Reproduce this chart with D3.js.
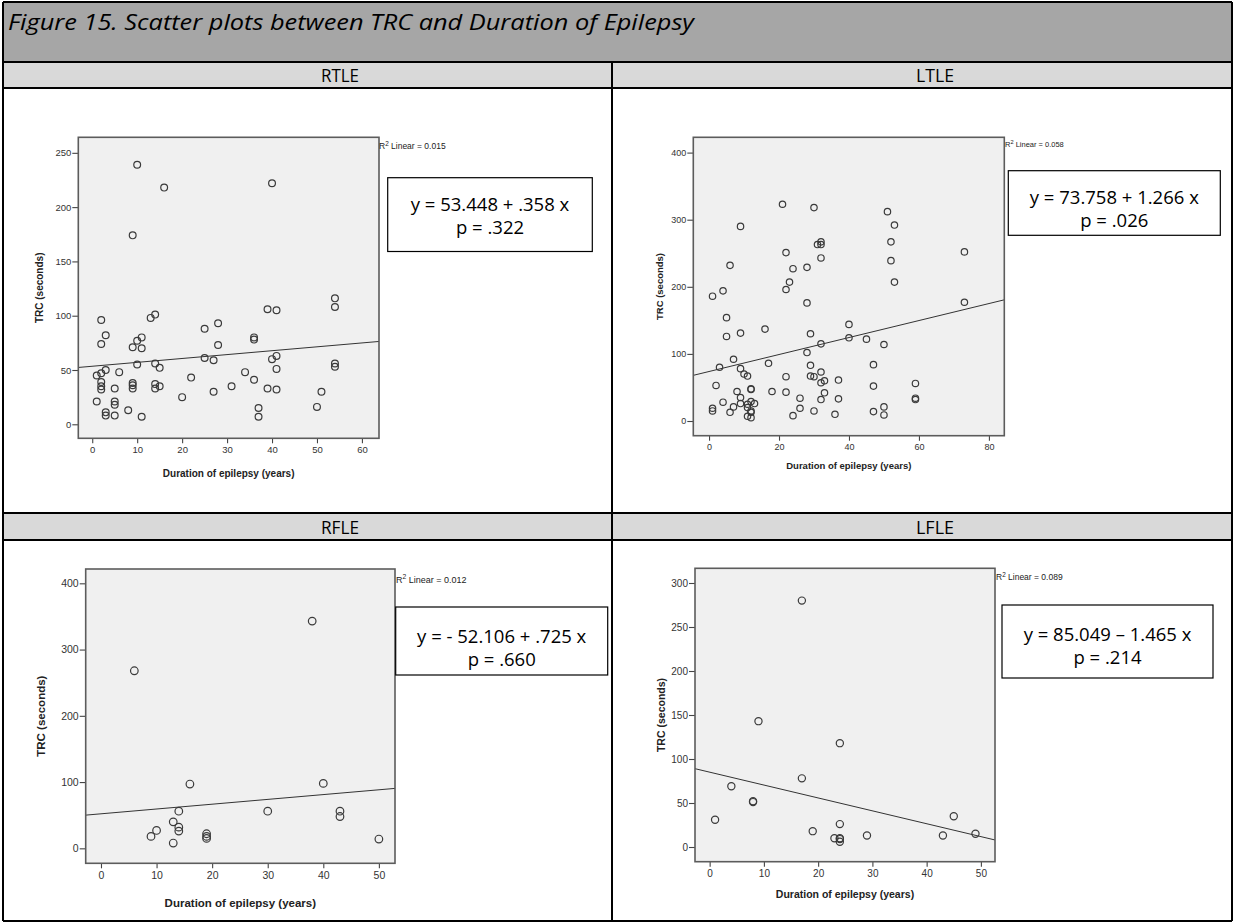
<!DOCTYPE html>
<html>
<head>
<meta charset="utf-8">
<script src="https://cdn.jsdelivr.net/npm/d3@7"></script>
<style>
  body { margin: 0; background: #fff; }
  svg { display: block; }
</style>
</head>
<body>
<svg id="fig" width="1235" height="924"></svg>
<script>
// ---- Data: duration of epilepsy (years) vs TRC (seconds) per group ----
const panelNames = ["RTLE", "LTLE", "RFLE", "LFLE"];

const rtleDuration = [2, 3, 2, 1, 2, 3, 2, 2, 2, 1, 3, 3, 5, 5, 5, 5, 6, 8, 9, 10, 11, 11, 10, 9, 9, 9, 11,
  13, 14, 14, 15, 14, 14, 15, 20, 22, 25, 28, 28, 25, 27, 27, 31, 34, 36, 36, 36, 39, 41, 41, 40, 41,
  39, 41, 37, 37, 50, 51, 54, 54, 54, 54, 10, 16, 40, 9];
const rtleTRC = [96, 82, 74, 45, 47, 50, 39, 35, 32, 21, 11, 8, 33, 21, 18, 8, 48, 13, 71, 77, 80, 70, 55, 38, 36, 33, 7,
  98, 101, 56, 52, 37, 33, 35, 25, 43, 88, 93, 73, 61, 59, 30, 35, 48, 80, 78, 41, 106, 105, 63, 60, 51,
  33, 32, 15, 7, 16, 30, 116, 108, 56, 53, 239, 218, 222, 174];

const ltleDuration = [21, 30, 51, 53, 9, 31, 32, 32, 52, 22, 73, 32, 52, 6, 24, 28, 23, 53, 22, 4, 1, 28, 73,
  5, 5, 9, 16, 40, 29, 40, 45, 32, 50, 28, 7, 17, 3, 9, 29, 47, 10, 11, 22, 32, 29, 30, 32, 33, 37, 59,
  2, 47, 12, 12, 8, 18, 22, 33, 9, 26, 37, 59, 59, 32, 4, 12, 13, 9, 11, 1, 1, 7, 11, 26, 50, 6, 12, 12,
  30, 47, 11, 12, 24, 36, 50];
const ltleTRC = [323, 318, 312, 292, 290, 263, 263, 267, 267, 251, 252, 243, 239, 232, 227, 229, 207, 207, 196, 194, 186, 176, 177,
  154, 126, 131, 137, 144, 130, 124, 122, 115, 114, 102, 92, 86, 80, 78, 83, 84, 70, 67, 66, 73, 67, 66, 57, 60, 61, 56,
  53, 52, 48, 47, 44, 44, 43, 42, 35, 34, 33, 34, 32, 32, 28, 29, 26, 26, 25, 19, 15, 21, 20, 19, 21, 13, 15, 13,
  15, 14, 7, 5, 8, 10, 9];

const rfleDuration = [6, 38, 9, 10, 13, 13, 14, 14, 14, 16, 19, 19, 19, 30, 40, 43, 43, 50];
const rfleTRC = [268, 343, 18, 27, 40, 8, 56, 32, 26, 97, 22, 18, 15, 56, 98, 56, 48, 14];

const lfleDuration = [1, 4, 8, 8, 9, 17, 17, 19, 23, 24, 24, 24, 24, 24, 29, 43, 45, 49];
const lfleTRC = [31, 69, 52, 51, 143, 280, 78, 18, 10, 118, 26, 10, 9, 6, 13, 13, 35, 15];

// Fitted linear regression lines (intercept, slope) and their printed labels
const fitIntercepts = [53.448, 73.758, 52.106, 85.049];
const fitSlopes = [0.358, 1.266, 0.725, -1.465];
const equationLabels = ["y = 53.448 + .358 x", "y = 73.758 + 1.266 x", "y = - 52.106 + .725 x", "y = 85.049 \u2013 1.465 x"];
const pValueLabels = ["p = .322", "p = .026", "p = .660", "p = .214"];
const rSquaredLabels = ["0.015", "0.058", "0.012", "0.089"];

// Axis tick values
const rtleXTicks = [0, 10, 20, 30, 40, 50, 60];
const rtleYTicks = [0, 50, 100, 150, 200, 250];
const ltleXTicks = [0, 20, 40, 60, 80];
const ltleYTicks = [0, 100, 200, 300, 400];
const rfleXTicks = [0, 10, 20, 30, 40, 50];
const rfleYTicks = [0, 100, 200, 300, 400];
const lfleXTicks = [0, 10, 20, 30, 40, 50];
const lfleYTicks = [0, 50, 100, 150, 200, 250, 300];

const figureTitle = "Figure 15. Scatter plots between TRC and Duration of Epilepsy";
const xAxisTitle = "Duration of epilepsy (years)";
const yAxisTitle = "TRC (seconds)";

// ---- Assemble per-panel series ----
const series = [
  { x: rtleDuration, y: rtleTRC, xt: rtleXTicks, yt: rtleYTicks },
  { x: ltleDuration, y: ltleTRC, xt: ltleXTicks, yt: ltleYTicks },
  { x: rfleDuration, y: rfleTRC, xt: rfleXTicks, yt: rfleYTicks },
  { x: lfleDuration, y: lfleTRC, xt: lfleXTicks, yt: lfleYTicks }
];

// ---- Layout of each chart inside the table ----
const layout = [
  { frame: [78.3, 137.3, 379, 438.3], xDom: [-3.1, 63.8], yDom: [-12.9, 264.3],
    tickFont: 9.5, titleFont: 10, yTitleX: 39, xTitleY: 477, r: 3.4,
    box: [387.7, 177.7, 592.3, 251.5], eqY: [211, 234], r2: [379, 149], r2Font: 8.5 },
  { frame: [693.3, 137.3, 1004.3, 435.7], xDom: [-4.5, 84.4], yDom: [-21.9, 422.8],
    tickFont: 9, titleFont: 9.5, yTitleX: 660, xTitleY: 469, r: 3.2,
    box: [1008.3, 170.7, 1220.3, 235.3], eqY: [203.5, 226.5], r2: [1005, 147], r2Font: 7.5 },
  { frame: [85.7, 569, 395, 863.3], xDom: [-2.75, 52.9], yDom: [-22.6, 421.6],
    tickFont: 10.5, titleFont: 11.5, yTitleX: 41, xTitleY: 907, r: 3.8,
    box: [395.7, 607, 607.7, 675], eqY: [642.5, 666], r2: [396, 583], r2Font: 9 },
  { frame: [695, 568.3, 995, 861.7], xDom: [-2.7, 52.6], yDom: [-16.7, 316.7],
    tickFont: 10, titleFont: 10.5, yTitleX: 661, xTitleY: 898, r: 3.6,
    box: [1002, 605, 1213, 678], eqY: [641, 664], r2: [996, 580], r2Font: 8.5 }
];

const svg = d3.select("#fig");

// ---- Table structure ----
const T = { left: 3, right: 1232, top: 2, titleBottom: 62, head1Bottom: 88, row1Bottom: 513, head2Bottom: 540, bottom: 921, mid: 612 };

svg.append("rect").attr("x", T.left).attr("y", T.top).attr("width", T.right - T.left).attr("height", T.titleBottom - T.top)
  .attr("fill", "#a6a6a6");
svg.append("rect").attr("x", T.left).attr("y", T.titleBottom).attr("width", T.right - T.left).attr("height", T.head1Bottom - T.titleBottom)
  .attr("fill", "#d9d9d9");
svg.append("rect").attr("x", T.left).attr("y", T.row1Bottom).attr("width", T.right - T.left).attr("height", T.head2Bottom - T.row1Bottom)
  .attr("fill", "#d9d9d9");

const gridLines = [
  [T.left, T.top, T.right, T.top],
  [T.left, T.titleBottom, T.right, T.titleBottom],
  [T.left, T.head1Bottom, T.right, T.head1Bottom],
  [T.left, T.row1Bottom, T.right, T.row1Bottom],
  [T.left, T.head2Bottom, T.right, T.head2Bottom],
  [T.left, T.bottom, T.right, T.bottom],
  [T.left, T.top, T.left, T.bottom],
  [T.right, T.top, T.right, T.bottom],
  [T.mid, T.titleBottom, T.mid, T.bottom]
];
svg.append("g").selectAll("line").data(gridLines).join("line")
  .attr("x1", d => d[0]).attr("y1", d => d[1]).attr("x2", d => d[2]).attr("y2", d => d[3])
  .attr("stroke", "#000").attr("stroke-width", 1.2).attr("shape-rendering", "crispEdges");

svg.append("text").attr("x", 8).attr("y", 30)
  .attr("font-family", "'Open Sans', 'Noto Sans', sans-serif").attr("font-style", "italic")
  .attr("font-size", 21).attr("fill", "#000")
  .attr("textLength", 686).attr("lengthAdjust", "spacingAndGlyphs")
  .text(figureTitle);

const headerCenters = [[340, 82], [935, 82], [340, 534], [935, 534]];
panelNames.forEach((name, i) => {
  svg.append("text").attr("x", headerCenters[i][0]).attr("y", headerCenters[i][1])
    .attr("text-anchor", "middle")
    .attr("font-family", "'Open Sans', 'Noto Sans', sans-serif").attr("font-size", 18)
    .attr("textLength", 38).attr("lengthAdjust", "spacingAndGlyphs")
    .attr("fill", "#000").text(name);
});

// ---- Scatter charts ----
series.forEach((s, i) => {
  const L = layout[i];
  const [fx0, fy0, fx1, fy1] = L.frame;
  const x = d3.scaleLinear().domain(L.xDom).range([fx0, fx1]);
  const y = d3.scaleLinear().domain(L.yDom).range([fy1, fy0]);
  const g = svg.append("g");

  g.append("rect").attr("x", fx0).attr("y", fy0).attr("width", fx1 - fx0).attr("height", fy1 - fy0)
    .attr("fill", "#f0f0f0");

  const yAxis = g.append("g").attr("transform", `translate(${fx0},0)`)
    .call(d3.axisLeft(y).tickValues(s.yt).tickSize(6).tickPadding(1).tickFormat(d3.format("d")));
  const xAxis = g.append("g").attr("transform", `translate(0,${fy1})`)
    .call(d3.axisBottom(x).tickValues(s.xt).tickSize(5).tickPadding(3).tickFormat(d3.format("d")));
  [yAxis, xAxis].forEach(a => {
    a.select(".domain").remove();
    a.selectAll(".tick line").attr("stroke", "#444").attr("stroke-width", 1.1);
    a.selectAll(".tick text").attr("fill", "#333")
      .attr("font-family", "'Liberation Sans', Arial, sans-serif").attr("font-size", L.tickFont);
  });

  // Regression line across the full horizontal extent
  const line = d3.line().x(d => x(d)).y(d => y(fitIntercepts[i] + fitSlopes[i] * d));
  g.append("path").datum(L.xDom).attr("d", line)
    .attr("fill", "none").attr("stroke", "#333").attr("stroke-width", 1);

  // Observations
  g.append("g").selectAll("circle").data(s.x.map((d, k) => [d, s.y[k]])).join("circle")
    .attr("cx", d => x(d[0])).attr("cy", d => y(d[1])).attr("r", L.r)
    .attr("fill", "none").attr("stroke", "#3a3a3a").attr("stroke-width", 1.2);

  // Frame
  g.append("rect").attr("x", fx0).attr("y", fy0).attr("width", fx1 - fx0).attr("height", fy1 - fy0)
    .attr("fill", "none").attr("stroke", "#5c5c5c").attr("stroke-width", 1.6);

  // Axis titles
  g.append("text").attr("x", (fx0 + fx1) / 2).attr("y", L.xTitleY).attr("text-anchor", "middle")
    .attr("font-family", "'Liberation Sans', Arial, sans-serif").attr("font-weight", "bold")
    .attr("font-size", L.titleFont).attr("fill", "#222").text(xAxisTitle);
  g.append("text")
    .attr("transform", `translate(${L.yTitleX + L.titleFont * 0.35},${(fy0 + fy1) / 2}) rotate(-90)`)
    .attr("text-anchor", "middle")
    .attr("font-family", "'Liberation Sans', Arial, sans-serif").attr("font-weight", "bold")
    .attr("font-size", L.titleFont).attr("fill", "#222").text(yAxisTitle);

  // R² annotation
  const r2 = g.append("text").attr("x", L.r2[0]).attr("y", L.r2[1])
    .attr("font-family", "'Liberation Sans', Arial, sans-serif").attr("font-size", L.r2Font).attr("fill", "#222");
  r2.append("tspan").text("R");
  r2.append("tspan").attr("dy", -L.r2Font * 0.4).attr("font-size", L.r2Font * 0.75).text("2");
  r2.append("tspan").attr("dy", L.r2Font * 0.4).text(" Linear = " + rSquaredLabels[i]);

  // Equation box
  const [bx0, by0, bx1, by1] = L.box;
  g.append("rect").attr("x", bx0).attr("y", by0).attr("width", bx1 - bx0).attr("height", by1 - by0)
    .attr("fill", "#fff").attr("stroke", "#000").attr("stroke-width", 1.2);
  [equationLabels[i], pValueLabels[i]].forEach((t, k) => {
    g.append("text").attr("x", (bx0 + bx1) / 2).attr("y", L.eqY[k]).attr("text-anchor", "middle")
      .attr("font-family", "'Open Sans', 'Noto Sans', sans-serif").attr("font-size", 18.5)
      .attr("fill", "#000").text(t);
  });
});
</script>
</body>
</html>
